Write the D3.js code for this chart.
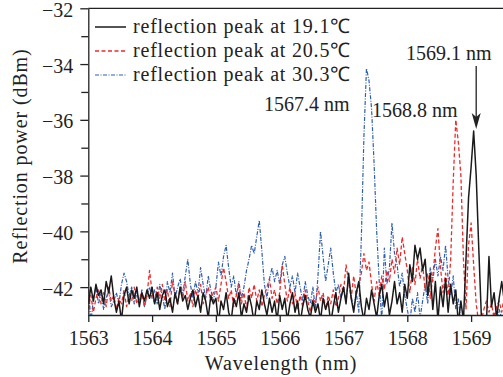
<!DOCTYPE html>
<html>
<head>
<meta charset="utf-8">
<script src="https://cdn.jsdelivr.net/npm/d3@7"></script>
<style>
  body { margin: 0; background: #fff; }
</style>
</head>
<body>
<div id="chart"></div>
<script>
// wavelength sampling grid (nm)
var wlStart = 1563, wlStep = 0.04;

// reflection power (dBm), one value per grid point
var peak19_1 = [
    -42.6, -42.0, -42.5, -41.9, -42.3, -42.1, -42.6, -41.8, -42.2, -41.6, -42.4, -42.9, -42.5, -43.2, -42.3, -42.0, -42.6, -42.1, -42.4, -42.0, -42.7, -42.2, -42.5, -42.1, -42.4,
    -42.0, -42.6, -42.2, -42.8, -42.3, -42.1, -42.7, -42.4, -42.9, -42.2, -42.6, -42.0, -42.5, -42.3, -42.8, -42.4, -42.1, -42.7, -42.3, -42.9, -42.2, -42.5, -43.1, -42.3, -42.6,
    -42.4, -43.3, -42.5, -42.8, -42.2, -42.9, -43.2, -42.4, -42.7, -42.2, -43.1, -42.6, -42.9, -42.3, -42.7, -43.3, -42.5, -42.8, -42.1, -42.6, -43.0, -42.4, -42.9, -42.5, -43.2,
    -42.3, -42.8, -42.4, -43.2, -42.6, -42.2, -42.9, -42.5, -43.3, -42.7, -42.3, -42.8, -43.1, -42.5, -42.9, -42.6, -43.2, -42.4, -42.8, -42.5, -43.3, -42.7, -42.2, -42.9, -42.4,
    -42.0, -42.6, -41.5, -42.4, -42.9, -42.2, -41.8, -42.7, -43.2, -42.4, -42.8, -42.1, -42.6, -43.1, -42.3, -41.9, -42.7, -42.2, -43.0, -42.5, -41.8, -42.6, -42.2, -42.9, -41.9,
    -42.4, -41.2, -41.8, -40.5, -41.0, -40.6, -41.4, -41.0, -42.3, -41.5, -42.8, -41.8, -43.2, -42.0, -42.7, -41.7, -42.9, -41.9, -42.6, -42.1, -43.3, -42.5, -43.2, -41.0, -38.8,
    -37.7, -36.4, -38.0, -40.6, -43.0, -43.5, -43.3, -40.9, -42.7, -42.2, -43.1, -42.4, -41.8, -42.5
];
var peak20_5 = [
    -42.8, -42.3, -42.9, -42.4, -42.1, -42.6, -42.2, -42.7, -42.0, -42.5, -42.3, -42.8, -42.4, -42.6, -42.1, -42.7, -42.3, -42.5, -42.0, -42.6, -42.4, -42.2, -42.7, -42.3, -41.4,
    -42.2, -42.6, -42.0, -42.4, -41.9, -42.5, -42.1, -42.7, -41.8, -42.3, -42.6, -42.0, -42.4, -41.8, -42.5, -42.2, -42.7, -42.1, -42.4, -41.9, -42.6, -42.3, -42.0, -42.5, -42.2,
    -42.0, -42.5, -41.9, -41.3, -41.8, -42.4, -42.1, -42.7, -42.3, -41.9, -42.6, -42.2, -42.8, -42.0, -42.4, -41.9, -42.5, -42.1, -42.7, -42.3, -42.0, -41.7, -42.4, -42.1, -42.6,
    -42.2, -41.2, -41.9, -42.5, -42.0, -42.6, -42.2, -42.8, -42.3, -42.7, -42.1, -42.5, -42.9, -42.4, -42.6, -42.0, -42.5, -42.2, -42.8, -42.3, -42.6, -42.1, -42.7, -42.4, -41.9,
    -42.2, -41.2, -41.8, -42.4, -41.6, -42.3, -41.9, -41.5, -40.8, -41.4, -41.1, -41.9, -42.5, -41.8, -42.3, -41.6, -42.1, -41.4, -41.8, -41.0, -41.5, -40.6, -41.2, -40.2, -40.8,
    -41.4, -42.2, -41.3, -41.9, -41.0, -41.7, -41.2, -42.1, -41.5, -42.4, -41.6, -40.6, -39.9, -41.3, -42.2, -41.5, -42.3, -41.0, -38.2, -36.0, -36.8, -38.0, -41.0, -42.8, -40.5,
    -39.7, -41.2, -42.6, -43.3, -43.2, -42.8, -42.5, -42.9, -42.6, -43.1, -42.7, -42.5, -42.9, -42.3
];
var peak30_3 = [
    -41.8, -43.3, -42.4, -42.0, -42.6, -42.2, -42.8, -42.4, -42.1, -42.7, -42.5, -42.2, -42.6, -41.9, -41.5, -41.8, -42.3, -42.0, -42.6, -42.2, -42.5, -42.1, -42.7, -42.3, -42.0,
    -42.4, -42.1, -42.6, -41.9, -42.3, -42.8, -41.8, -42.2, -41.5, -42.4, -42.0, -41.7, -42.3, -41.6, -41.0, -41.9, -42.4, -41.8, -42.2, -41.3, -41.9, -42.4, -41.6, -42.1, -42.5,
    -42.0, -41.1, -41.6, -40.9, -40.5, -41.3, -42.0, -41.6, -42.3, -41.8, -42.4, -42.0, -41.4, -41.0, -40.5, -40.8, -40.2, -39.6, -40.7, -41.9, -42.4, -41.7, -41.3, -41.8, -41.4,
    -41.9, -41.2, -40.9, -41.5, -42.0, -41.6, -42.2, -41.5, -42.0, -42.5, -41.8, -42.3, -42.6, -42.0, -42.8, -41.6, -40.0, -40.9, -41.8, -41.2, -40.6, -41.5, -42.2, -41.9, -42.4,
    -42.0, -42.5, -41.7, -42.3, -42.8, -42.2, -42.9, -40.2, -36.6, -34.15, -34.6, -35.6, -37.6, -40.0, -41.8, -43.2, -40.6, -41.9, -41.3, -39.7, -40.8, -41.2, -42.0, -41.5, -42.3,
    -42.8, -43.3, -42.4, -42.9, -42.2, -43.1, -42.5, -41.9, -42.6, -41.3, -41.8, -41.0, -41.6, -40.9, -41.4, -40.5, -41.7, -42.3, -41.6, -42.8, -42.4, -43.3, -42.9, -43.4, -43.5,
    -43.4, -43.5, -43.3, -43.5, -43.6, -43.4, -43.2, -43.5, -43.3, -42.9, -43.2, -42.8, -43.1, -42.9
];

var seriesNames = ["reflection peak at 19.1℃", "reflection peak at 20.5℃", "reflection peak at 30.3℃"];
var xTicks = [1563, 1564, 1565, 1566, 1567, 1568, 1569];
var yTicks = [-42, -40, -38, -36, -34, -32];
var yMinorTicks = [-41, -39, -37, -35, -33];
var peakLabels = ["1567.4 nm", "1568.8 nm", "1569.1 nm"];

var serifFont = "'Liberation Serif', 'Times New Roman', serif";

function drawChart() {
    var w = 503, h = 377;
    var left = 88.3, top = 8.3, bottom = 315, right = 503;

    var svg = d3.select("#chart").append("svg")
        .attr("width", w)
        .attr("height", h);

    var x = d3.scaleLinear().domain([1563, 1569.5]).range([left, right]);
    var y = d3.scaleLinear().domain([-43, -32]).range([bottom, top]);

    // line styles for the three temperatures
    var styles = [
        { color: "#1a1a1a", width: 1.5, dash: null },
        { color: "#ee2a2a", width: 1.3, dash: "4,2.5" },
        { color: "#2f5fb3", width: 1.2, dash: "4,1.5,1,1.5" }
    ];
    var allSeries = [peak19_1, peak20_5, peak30_3];

    svg.append("clipPath").attr("id", "plotClip")
        .append("rect")
        .attr("x", left).attr("y", top)
        .attr("width", right - left).attr("height", bottom - top);

    var line = d3.line()
        .x((d, i) => x(wlStart + i * wlStep))
        .y(d => y(d));

    // draw blue first, black on top
    var plot = svg.append("g").attr("clip-path", "url(#plotClip)");
    [2, 1, 0].forEach(function (k) {
        plot.append("path")
            .datum(allSeries[k])
            .attr("fill", "none")
            .attr("stroke", styles[k].color)
            .attr("stroke-width", styles[k].width)
            .attr("stroke-dasharray", styles[k].dash)
            .attr("stroke-linejoin", "round")
            .attr("d", line);
    });

    // --- axes ---
    svg.append("g")
        .attr("transform", `translate(0,${bottom})`)
        .call(d3.axisBottom(x).tickValues(xTicks).tickFormat(d3.format("d")).tickSize(7).tickPadding(9).tickSizeOuter(0));

    svg.append("g")
        .attr("class", "y-axis")
        .attr("transform", `translate(${left},0)`)
        .call(d3.axisLeft(y).tickValues(yTicks).tickSize(8).tickPadding(7).tickSizeOuter(0));
    svg.selectAll(".y-axis .tick text").attr("dy", "0.4em");

    svg.append("g")
        .attr("transform", `translate(${left},0)`)
        .call(d3.axisLeft(y).tickValues(yMinorTicks).tickFormat("").tickSize(7).tickSizeOuter(0))
        .select(".domain").remove();

    svg.selectAll(".domain, .tick line").attr("stroke", "#222").attr("stroke-width", 1.3);

    // top frame line
    svg.append("line")
        .attr("x1", left).attr("x2", right)
        .attr("y1", top).attr("y2", top)
        .attr("stroke", "#222").attr("stroke-width", 1.3);

    // axis titles
    svg.append("text")
        .attr("transform", "translate(281,370)")
        .attr("text-anchor", "middle")
        .style("letter-spacing", "0.9px")
        .text("Wavelength (nm)");

    svg.append("text")
        .attr("transform", "translate(27,156) rotate(-90)")
        .attr("text-anchor", "middle")
        .style("letter-spacing", "0.9px")
        .text("Reflection power (dBm)");

    // --- legend ---
    var legend = svg.append("g").selectAll("g")
        .data(seriesNames)
        .enter().append("g")
        .attr("transform", (d, i) => `translate(95,${27 + i * 24})`);

    legend.append("line")
        .attr("x1", 0).attr("x2", 31)
        .attr("stroke", (d, i) => styles[i].color)
        .attr("stroke-width", (d, i) => styles[i].width)
        .attr("stroke-dasharray", (d, i) => styles[i].dash);

    legend.append("text")
        .attr("x", 38)
        .attr("dy", "0.3em")
        .style("letter-spacing", "0.8px")
        .text(d => d);

    // --- peak annotations ---
    svg.append("text").attr("x", 264).attr("y", 111).text(peakLabels[0]);
    svg.append("text").attr("x", 372).attr("y", 117).text(peakLabels[1]);
    svg.append("text").attr("x", 406).attr("y", 60).text(peakLabels[2]);

    var ax = x(1569.08);
    svg.append("line")
        .attr("x1", ax).attr("x2", ax)
        .attr("y1", 66).attr("y2", 118)
        .attr("stroke", "#222").attr("stroke-width", 1.3);
    svg.append("path")
        .attr("d", `M${ax},129 L${ax - 4.5},113 L${ax},117 L${ax + 4.5},113 Z`)
        .attr("fill", "#222");

    // one serif face for every label
    svg.selectAll("text")
        .style("font-family", serifFont)
        .style("font-size", "20px")
        .attr("fill", "#222");
}

drawChart();
</script>
</body>
</html>
